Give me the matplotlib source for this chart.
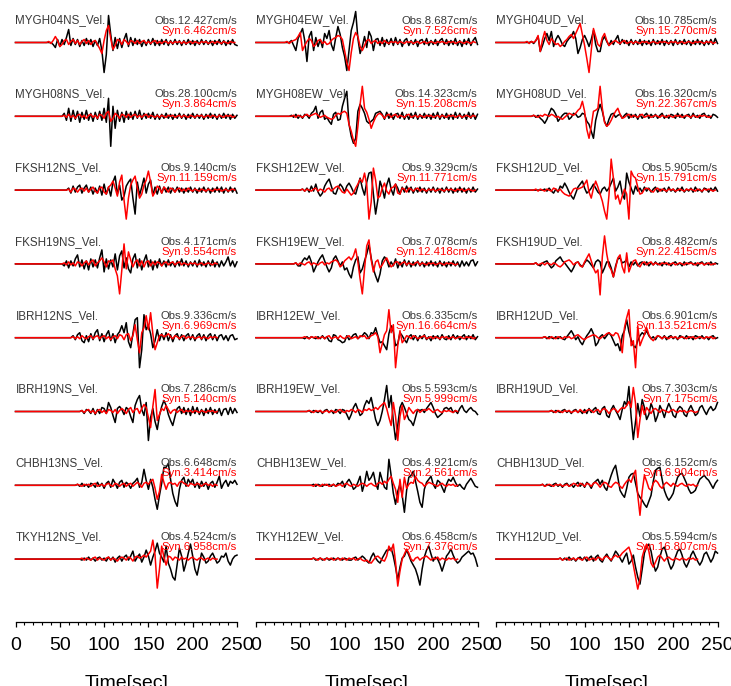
import numpy as np
import matplotlib.pyplot as plt
from matplotlib.ticker import MultipleLocator

plt.rcParams['font.family'] = ['Liberation Sans', 'DejaVu Sans']

# Stations (rows) and components (columns)
stations = ['MYGH04', 'MYGH08', 'FKSH12', 'FKSH19', 'IBRH12', 'IBRH19', 'CHBH13', 'TKYH12']
components = ['NS', 'EW', 'UD']

# Peak velocities printed on the panels (cm/s)
obs_NS = [12.427, 28.100, 9.140, 4.171, 9.336, 7.286, 6.648, 4.524]
syn_NS = [6.462, 3.864, 11.159, 9.554, 6.969, 5.140, 3.414, 6.958]
obs_EW = [8.687, 14.323, 9.329, 7.078, 6.335, 5.593, 4.921, 6.458]
syn_EW = [7.526, 15.208, 11.771, 12.418, 16.664, 5.999, 2.561, 7.376]
obs_UD = [10.785, 16.320, 5.905, 8.482, 6.901, 7.303, 6.152, 5.594]
syn_UD = [15.270, 22.367, 15.791, 22.415, 13.521, 7.175, 6.904, 16.807]

# Waveforms: normalised amplitude sampled every 2.5 s, starting at the onset time
dt = 2.5

onset_obs_NS = [40, 52.5, 57.5, 52.5, 62.5, 72.5, 67.5, 72.5]
onset_syn_NS = [35, 52.5, 57.5, 52.5, 62.5, 72.5, 67.5, 72.5]
onset_obs_EW = [37.5, 37.5, 50, 42.5, 52.5, 57.5, 62.5, 62.5]
onset_syn_EW = [32.5, 37.5, 50, 42.5, 52.5, 57.5, 62.5, 62.5]
onset_obs_UD = [37.5, 40, 52.5, 42.5, 52.5, 60, 50, 70]
onset_syn_UD = [32.5, 40, 42.5, 42.5, 52.5, 60, 50, 70]

MYGH04NS_obs = [0, -2, -5, 3, -4, 3, -2, 5, 13, -3, 4, -2, 3, -4, 2, -3, 4, -2, 3, -4,
                2, -3, 4, -8, -30, -12, 27, 8, -8, 5, -6, 4, -5, 3, 9, -4, 5, -3, 4, -2,
                3, -4, 2, -3, 3, -2, 4, -3, 2, -3, 3, -2, 3, -3, 2, -2, 3, -2, 2, -3,
                2, -2, 3, -2, 2, -3, 2, -2, 3, -2, 2, -2, 2, -3, 2, -2, 3, -2, 2, -3,
                2, -2, 3, -2, -3]
MYGH04NS_syn = [0, 1, -1, 2, 6, 2, -4, -2, 2, 3, -2, 1, 3, -1, 2, -2, 1, 3, -1, 2,
                -2, 1, 2, -2, -6, -11, 2, 12, 17, 4, -7, -3, 3, 2, -2, 3, 1, -2, 2, 1,
                -1, 2, -1, 1, 2, -1, 1, -1, 1, 2, -1, 1, -1, 1, 1, -1, 1, -1, 1, 0,
                1, -1, 1, -1, 0, 1, -1, 1, 0, -1, 1, 0, 1, -1, 0, 1, -1, 1, 0, -1,
                1, 0, -1, 1, 0, 0]
MYGH08NS_obs = [0, 3, -4, 8, -5, 6, -3, 5, -6, 4, -3, 6, -4, 3, -5, 4, -3, 5, -4,
                8, -6, 18, -30, 10, -12, 6, -5, 4, -6, 5, -3, 4, -3, 5, -2, 6, -3, 3, -2,
                3, -2, 4, -3, 2, -3, 2, -2, 3, -2, 2, -3, 2, -2, 3, -2, 2, -3, 2, -2,
                3, -2, 2, -2, 2, -3, 2, -2, 3, -2, 2, -3, 2, -2, 3, -2, 2, -3, 2, -2, 1]
MYGH08NS_syn = [0, 1, -1, 2, -1, 1, -2, 1, 2, -1, 1, -2, 1, 2, -1, 1, -2, 2, 1,
                -2, 3, 5, -5, -2, 3, 1, -2, 2, 1, -1, 2, -1, 1, 2, -1, 1, -1, 1, 2,
                -1, 1, 0, -1, 1, -1, 1, 0, -1, 1, 0, 1, -1, 0, 1, -1, 1, 0, -1, 1,
                0, -1, 1, 0, 1, -1, 0, 1, -1, 1, 0, -1, 1, 0, -1, 1, 0, 1, -1, 0]
FKSH12NS_obs = [0, 2, -3, 4, -2, 3, 5, -3, 2, 5, -2, 3, -4, 2, -3, 4, -5, 6, -4, 3, -6,
                8, 14, -4, 5, -10, -6, 4, 8, 11, -8, -24, 8, -5, 3, 12, -3, 6, 10, -5, 3,
                -4, 4, -3, 3, -2, 3, -3, 2, -2, 3, -2, 2, -3, 2, -2, 3, -2, 2, -3, 2,
                -2, 3, -2, 2, -3, 2, -2, 3, -2, 3, -3, 2, -2, 3, -2, 2, -3]
FKSH12NS_syn = [0, 1, -2, 2, 1, -2, 1, 2, -1, 2, -2, 1, 3, -1, -3, 2, 3, -2, -4, 3, 5,
                9, 2, -6, 8, 15, -10, -29, -8, 5, 10, 14, 2, -8, -4, 5, 10, 19, 8, -6, -2,
                4, 2, -3, 3, 1, -2, 2, 1, -2, 1, 2, -1, 1, -1, 2, 0, -1, 1, 0, -1,
                1, 0, -1, 1, 0, -1, 1, 0, 1, -1, 0, 1, -1, 0, 1, 0]
FKSH19NS_obs = [0, -2, 3, -4, 3, -2, 5, 9, -3, 4, -5, 3, -6, 5, -3, 4, -4, 6, 14,
                -8, 5, -5, 4, -3, 10, -6, 8, 13, -4, 6, -5, -9, 5, 10, -4, 5, -6, 3, 9,
                -3, 4, -6, 3, -4, 5, -2, 3, -3, 4, -2, 2, -3, 3, -2, 5, -2, 3, -3, 2,
                -2, 3, -3, 4, -2, 2, -3, 3, -2, 4, -3, 2, -3, 3, -2, 2, 7, -2, 3, -3, 2]
FKSH19NS_syn = [0, 1, -1, 2, -1, 1, -2, 2, 1, -2, 1, 3, -1, 2, 4, -2, 1, 3, 6,
                2, -3, 3, 2, 4, -5, -12, -30, -6, 20, -5, 12, 4, -3, 2, 4, -2, 3, -3, 2,
                3, -2, 2, -1, 2, 1, -2, 1, 2, -1, 1, 2, -1, 1, 2, -1, 1, 0, -1, 1,
                0, 1, -1, 0, 1, -1, 0, 1, 0, -1, 1, 0]
IBRH12NS_obs = [0, 2, -2, 3, 5, -3, -5, 2, -4, 4, -2, 5, 8, -3, 4, -4, 3, 7, -3,
                4, -5, 3, 6, 12, 5, 15, -4, -10, 4, 18, 20, -30, -12, 23, 8, 12, 4, -10, -3,
                8, -3, 4, -2, 5, -3, 3, -4, 2, 4, -2, 3, -3, 2, 4, -2, 3, -3, 2, 4,
                -2, 3, -3, 2, 4, -2, 3, -3, 2, 3, -2, 2, -3, 2, 3, -2, -1]
IBRH12NS_syn = [0, 1, -1, 1, -1, 2, 0, -1, 1, 2, -1, 1, 2, -1, 1, 2, -1, 1, -2,
                1, 2, -1, 3, 2, -2, 3, 4, -3, 2, 13, -2, -15, 5, 10, 22, 8, 25, 4, -12,
                -5, 2, 3, 1, 2, 4, 1, -1, 2, 1, -1, 1, 2, -1, 1, 0, 1, -1, 0, 1,
                -1, 1, 0, -1, 1, 0, 1, 0]
IBRH19NS_obs = [0, 1, -2, 2, 1, -2, 3, -3, 2, -2, 4, 3, -2, 9, 4, -4, -11, 3, 5,
                2, -3, 4, 2, -5, -11, 6, 12, 16, 2, -4, 9, -29, -6, 3, -10, -18, -4, 5, 11,
                6, -3, -9, -14, -5, 3, 5, -2, 4, -3, 3, -4, 5, -2, 4, -3, 2, -4, 3, -2,
                4, -3, 2, -2, 3, -4, 2, 3, -3, 4, -2, 3, -1]
IBRH19NS_syn = [0, 1, -1, 1, 2, -1, 1, -2, 1, 2, -1, 1, -2, 2, 1, -1, 2, -2, 1,
                3, 1, -2, 2, 4, -1, 2, 3, -2, 3, 7, 4, -6, -16, 5, 22, -9, -3, 3, 1,
                6, 2, -2, 1, 2, -1, 1, 2, -1, 1, 0, 1, -1, 1, 0, -1, 1, 0, -1, 1,
                0, 1, -1, 0]
CHBH13NS_obs = [0, 1, -1, 2, -1, 1, -2, 2, 1, -2, 3, -1, 2, -3, 2, 4, -2, 6, 2, -3, 3,
                5, -2, 3, 1, -3, 2, 4, 7, -2, 3, 16, 5, -4, 6, -2, -14, -24, -10, 2, 18,
                18, 22, 6, -8, -16, -21, -4, 5, 8, -1, 6, 2, 6, -2, 3, -3, 4, -1, 3, -4,
                2, 4, -2, 3, 9, -3, 2, 5, -1, 4, 2, 5, 1]
CHBH13NS_syn = [0, 1, 0, -1, 1, 0, 1, -1, 1, 2, -1, 0, 1, -1, 1, 2, 0, -1, 2, 1, -1,
                1, 2, -1, 1, 2, -1, 1, 3, 1, -2, 2, 3, 1, 4, 6, -3, -14, -6, 11, 3,
                -4, 2, 3, 1, 2, -1, 3, 4, 2, 1, -1, 2, 1, 0, 2, 1, -1, 1, 2, 0,
                1, -1, 1, 0]
TKYH12NS_obs = [0, -1, 1, -1, 2, -1, 1, -2, 1, 2, -1, 1, -2, 2, -1, 2, -3, 1, 3,
                -2, 2, 4, -1, 3, 8, -2, 2, 5, -3, 2, 9, 3, -6, 2, 8, 16, 6, 2, -3,
                13, -4, -10, -18, -21, -5, 11, 3, -12, -4, 6, 15, 3, -10, -16, -5, 6, 2, -4, -2,
                3, 6, 1, -4, -2, 3, 2, 6, -2, -6, 0, 3, 4]
TKYH12NS_syn = [0, 1, -1, 1, 0, -1, 1, 2, -1, 1, 0, -1, 1, 2, -1, 1, 0, -2, 1,
                2, 1, -1, 2, 1, -2, 2, 3, 1, 2, 4, 2, 5, 8, 19, 4, -29, -10, 13, 2,
                -6, 3, 2, -1, 2, 1, -1, 2, 0, 1, -1, 1, 2, 0, -1, 1, 1, -1, 0, 1,
                -1, 1, 0, 0]

MYGH04EW_obs = [0, 2, -3, -8, 4, 9, 14, 2, -19, 6, 11, -8, 5, -4, 3, -5, 9, 4, 12, -2, -8,
                5, 16, 8, -5, -14, -28, -8, 12, 20, 31, 4, -11, -4, 6, -5, 11, 6, -8, 3, 4,
                -3, 5, -4, 3, -2, 4, -3, 5, -2, 3, -4, 2, 4, -3, 2, -2, 3, -4, 2, 3,
                -2, 4, -3, 2, -2, 3, -3, 2, 4, -2, 3, -3, 2, -2, 4, -3, 2, -4, 3, -2,
                4, -3, 2, 5, -2]
MYGH04EW_syn = [0, 1, -1, 1, 2, 3, 6, 10, -8, -3, 1, 4, 2, -4, -2, 2, 3, -1, 1,
                -2, -1, 2, 4, 5, 7, 6, 3, -8, -20, -28, -10, 4, 10, 6, -4, -8, -3, 2, 3,
                -1, 1, 2, -1, 1, -1, 2, 0, -1, 1, 0, 1, -1, 1, 0, -1, 1, 0, 1, -1,
                0, 1, -1, 0, 1, -1, 0, 1, 0, -1, 1, 0, 1, 0, -1, 1, 0, 1, -1, 0,
                1, 0, -1, 1, 0, -1, 1, 0]
MYGH08EW_obs = [0, 1, -1, 2, -2, 1, -2, 2, 1, -2, 3, 5, 10, -2, 4, 6, -3, -1, -5, -8, 2,
                4, -4, -3, 10, 18, 25, -8, -20, -27, -22, 5, 12, 8, 3, -5, -7, -5, -3, 3, 4,
                5, 2, -3, 4, -2, 3, -3, 2, 3, -2, 4, -3, 2, -3, 3, -2, 4, -3, 2, -2,
                3, -2, 2, -3, 3, -2, 4, -3, 2, -2, 3, -3, 2, -3, 4, -2, 3, -2, 2, -3,
                4, -2, 3, -3, 2]
MYGH08EW_syn = [0, 0, 1, -1, 1, 0, -1, 1, 2, 0, 1, 2, 3, 1, -1, 0, 1, -1, -2, -3, -2,
                1, 3, 2, 4, 5, 3, -8, -15, -24, -30, -10, 12, 30, 8, 4, -3, -12, -6, -1, 2,
                3, 1, -2, 1, 2, -1, 1, 2, -1, 1, 0, -1, 1, 2, -1, 0, 1, -1, 1, 0,
                -1, 1, 0, 1, -1, 0, 1, -1, 1, 0, -1, 1, 0, 1, -1, 0, 1, -1, 0, 1,
                0, -1, 1, 0]
FKSH12EW_obs = [0, 1, -1, 2, -2, 4, -1, 6, -2, -6, -3, 4, 8, 11, 4, -3, -4, 2, 6, 3,
                -2, 4, 7, 3, -2, -4, 4, 12, 2, -5, 8, 17, 18, -4, -24, -10, 9, 2, -8, 5,
                12, 1, -5, 6, 2, -4, 3, -2, 4, -2, 3, -3, 2, -2, 3, -2, 2, -3, 2, -2,
                3, -2, 2, -3, 2, -2, 3, -2, 2, -3, 2, -2, 3, -2, 2, -3, 2, -2, 3, -2, 1]
FKSH12EW_syn = [0, 1, -1, 1, 0, -1, 1, 2, -1, 1, 0, -2, 1, 2, -1, 1, 3, 4, 1, -2,
                -3, 1, -2, -5, -3, 2, 6, 11, 8, 17, 5, -29, -12, 22, 10, -8, -6, 2, 7, -1,
                -4, 2, 3, 6, -3, -4, 2, 1, -2, 2, 1, -1, 1, 2, -1, 1, 0, -1, 1, 0,
                1, -1, 0, 1, 0, -1, 1, 0, 1, 0, -1, 1, 0, 1, -1, 0, 1, 0, -1, 0]
FKSH19EW_obs = [0, 1, -2, -2, 3, 6, 4, 8, 2, -8, -3, 2, 6, 9, 3, -3, -8, -4, 5,
                8, 3, -2, 2, -6, -4, -10, -14, -3, 4, 7, -9, -5, 3, 10, 19, 6, -5, -12, -18,
                -10, 3, 7, 4, -3, 2, -2, 5, -4, 2, -3, 4, -2, 3, -3, 2, -2, 3, -2, 2,
                -3, 2, -2, 3, -2, 2, -3, 3, -2, 2, -3, 2, -2, 3, -2, 2, -3, 3, -2, 2,
                -2, 3, 4, -2, 2]
FKSH19EW_syn = [0, 1, -1, 1, 0, -1, 1, 2, -1, 1, 0, -1, 1, 2, -1, 1, 0, 2, 3,
                4, 2, -3, -1, 3, 5, 7, 4, 8, 15, 2, -15, -30, -5, 18, 24, 4, -8, 2, 4,
                -4, -1, 3, 6, 1, -3, -1, 2, 2, -1, 1, 2, -1, 1, 0, -1, 1, 2, -1, 1,
                0, -1, 1, 0, 1, -1, 0, 1, 0, -1, 1, 0, 1, 0, -1, 0]
IBRH12EW_obs = [0, -1, 1, -1, 1, 0, -1, 1, -1, 2, -1, 1, -3, -4, 3, 2, -2, -3, -5,
                -4, 2, -2, 0, 3, 4, -1, 1, 2, 5, 3, -1, 5, 4, 10, 2, -5, -4, -8, -12,
                4, 12, 6, -8, -6, 5, 2, -2, -5, 1, 3, -2, 2, -3, 2, -1, 3, -2, 1, -3,
                2, -1, 2, -2, 3, -1, -2, 2, -2, 3, -1, 2, -2, 1, 3, -2, 2, -1, 3, -2, 1]
IBRH12EW_syn = [0, 1, 0, -1, 1, 0, 1, -1, 0, 1, -1, 1, 2, -1, 0, 1, -1, 2, 0,
                -1, 1, 2, -1, 0, 1, -1, 2, 1, 2, -1, 0, 2, 3, 5, 1, -15, -6, 3, 7,
                28, 5, 13, -30, -8, 7, -5, -2, 2, 1, -1, 2, 1, -1, 0, 1, 2, -1, 0, 1,
                -1, 1, 0, -1, 1, 0, 1, -1, 0, 1, -1, 0, 1, 0, -1, 1, 0, 1, -1, 0]
IBRH19EW_obs = [0, 1, -1, 1, 0, -1, 1, -2, 1, 2, -1, 1, -2, 2, 1, -2, 2, 1, -3, -8, -3,
                4, 8, 2, -4, -2, 6, 11, 8, 14, 3, -8, -14, -9, 0, 12, 26, 4, 16, -10, -28,
                -14, 4, 9, 4, -2, -8, -10, -14, -6, 2, 1, 2, -1, 3, 6, 9, 4, -2, -6, -4,
                -2, 3, 4, 2, 4, -1, 1, -2, 3, 6, 1, -1, 2, 4, 1, 0, -3]
IBRH19EW_syn = [0, 1, 0, -1, 1, 0, 1, -1, 0, 1, -1, 1, 0, -1, 1, 2, 0, -1, 1, 0, 2,
                1, -1, 2, 1, -1, 2, 1, 3, 1, 2, 4, 2, 5, 7, 9, 3, -6, -14, 9, -5,
                -29, -5, 6, -8, -3, 4, 1, -2, 1, 2, -1, 1, 2, 1, 3, 1, -1, 1, 2, 0,
                -1, 1, 0, 1, 0, -1, 1, 0]
CHBH13EW_obs = [0, 1, -1, 1, 0, -1, 1, 0, 1, -1, 1, -1, 2, 1, 4, -2, 3, 6, 2,
                -4, -2, 3, 9, -6, 2, 14, 5, 8, 13, 2, -4, 13, 5, -2, -4, 26, 10, -8, -19,
                -6, 1, -10, -27, -5, 8, 10, 14, 4, -6, -17, -22, -4, 3, 6, 9, 1, -3, 5, 3,
                -2, -7, 1, 6, 4, 8, 3, -1, 1, -2, -4, 1, 4, 7, 3, -1, -2]
CHBH13EW_syn = [0, -1, 1, 0, -1, 1, 0, 1, -1, 0, 1, -1, 0, 1, -1, 1, 2, 0, -1,
                1, 0, -1, 1, 2, 1, -1, 1, 2, 0, -1, 2, 3, 1, 4, 2, 6, 9, 2, -4,
                -17, 6, -12, 8, -3, 1, 3, 2, 9, 5, 3, 2, -1, 1, 3, 2, 1, 0, -1, 1,
                2, 0, -1, 1, 0, 1, -1, 0]
TKYH12EW_obs = [0, 1, -1, 0, 1, -1, 0, 1, -1, 0, 1, -1, 1, 0, -1, 1, 0, -1, -1,
                1, 2, -1, 1, 3, 1, -2, -4, 2, 6, 1, -2, -4, 1, 5, 9, 9, 11, 3, -8,
                -21, -8, 1, 3, 9, 4, -2, -6, -10, -17, -26, -10, 2, 9, 13, 5, -2, 2, 0, -5,
                -12, -5, 3, 6, 10, 4, -1, -4, -2, 2, 4, 6, 8, 5, 6, 1, -7]
TKYH12EW_syn = [0, 1, 0, -1, 1, 0, -1, 1, 0, 1, -1, 0, 1, -1, 1, 0, -1, 1, 0,
                1, -1, 0, 1, -1, -2, -1, -3, -4, -1, 2, 3, 1, -1, -2, 3, 13, 8, 15, -3,
                -27, -12, 0, 5, 10, 6, 0, -2, 1, 2, -1, 1, 2, 3, 1, -1, 1, 0, 2, -1,
                1, 0, -1, 1, 0, 1, -1, 0]

MYGH04UD_obs = [0, 1, -1, 2, 6, -9, -3, 4, 9, 2, 11, -4, 3, 7, 3, -2, -4, 1, 4, 6, 11,
                4, -11, -5, 3, 7, 2, -4, 3, 12, -2, -9, -9, 2, 6, 1, -3, 2, -2, 3, 7,
                -2, 3, -1, 2, -3, 3, -2, 2, -2, 3, -3, 2, -2, 2, -3, 3, -2, 2, -2, 3,
                -3, 2, -2, 2, -3, 3, -2, 2, -2, 3, -2, 2, -3, 2, -2, 3, -2, 2, -3, 2,
                -2, 3, -2, 4, -1]
MYGH04UD_syn = [0, 1, -1, 1, 0, 2, 7, -9, 3, 11, 2, -2, 4, 1, -2, -1, -4, -2, 1,
                3, 6, 8, 4, 9, 14, 19, 8, -3, -16, -30, -8, 14, 6, -2, -4, 5, 9, 2, -3,
                -1, 1, 2, 0, -1, 1, 2, -1, 0, 1, -1, 1, 0, -1, 1, 0, 1, -1, 0, 1,
                0, -1, 1, 0, 1, 0, -1, 1, 0, 1, -1, 0, 1, -1, 0, 1, 0, -1, 1, 0,
                1, 0, -1, 1, 0, 1, -1, 0]
MYGH08UD_obs = [0, 1, -1, 1, -2, -4, -7, -3, 3, 8, 6, 2, -5, -2, 1, 3, 3, -3, -1, 3,
                2, -1, 0, 3, 2, -5, -8, -15, -22, -4, 5, 12, 5, -5, -10, -3, 2, 3, -1, 1,
                2, -2, 1, 3, -2, 2, -1, 2, -3, 2, -2, 1, 3, -2, 2, -1, 2, -2, 1, 3,
                -2, 1, -2, 2, 1, -2, 3, -1, 2, -2, 1, 2, -2, 3, -1, 1, -2, 2, 3, -1,
                1, -2, 2, 1, -1]
MYGH08UD_syn = [0, 1, 0, -1, 1, 0, 2, 1, 0, 2, 1, -1, 0, -2, -3, -1, 1, 3, 2, 1,
                3, 6, 8, 15, 5, -13, -22, -10, 5, 6, 8, 30, 8, -6, -10, -8, -4, 1, 5, 8,
                2, -2, -1, 1, 2, -1, 1, 0, -1, 1, 2, -1, 0, 1, -1, 0, 1, 0, -1, 1,
                0, -1, 1, 0, -1, 1, 0, 1, -1, 0, 1, 0, -1, 1, 0, -1, 1, 0, 1, 0,
                -1, 0]
FKSH12UD_obs = [0, 1, -1, 2, -1, -3, 1, -2, 4, 2, 7, 3, -2, -6, -9, -3, 3, 6, 9,
                2, -3, -1, 2, 6, 2, -2, -4, 1, 3, -1, 2, 7, 12, -1, 3, 9, -4, -9, 17,
                8, 2, -4, 4, -1, 2, -2, 3, -1, 2, -2, 1, 3, -2, 1, -1, 2, -2, 3, -1,
                1, -2, 2, -1, 3, -2, 1, -1, 2, -2, 3, -1, 1, -2, 2, 1, -2, 2, -1, 3, -1]
FKSH12UD_syn = [0, 1, -1, 1, 0, -1, 1, 0, -1, 2, 1, -1, 1, -2, -4, -5, -6, -3, 1,
                2, 1, 2, 3, 6, 10, -2, -8, 2, 9, 3, -4, -11, -21, -29, -5, 31, 12, -9, -5,
                -14, -6, 1, -4, -29, 19, 14, 12, 3, -4, -3, 1, 2, 1, -1, -2, 1, 2, -1, 1,
                0, -1, 1, 0, 1, -1, 0, 1, 0, -1, 1, 0, 1, 0, -1, 1, 0, -1, 1, 0,
                1, 0, -1, 0]
FKSH19UD_obs = [0, 1, -1, -2, 1, 2, 3, -1, -4, -2, 3, 5, 7, 3, 1, -2, -5, -8, -4,
                1, 2, -1, -3, 1, 4, 2, -1, -4, 2, 4, 2, -9, -4, 2, 2, -4, -13, -2, 5,
                6, 1, 2, 4, -3, 2, -1, 2, -2, 1, 2, -1, 2, -2, 1, -1, 2, -1, 1, -2,
                2, -1, 1, -2, 1, 2, -1, 1, -2, 2, -1, 1, 2, -1, 1, -2, 1, 2, -1, 1,
                -1, 2, -1, 1, 0]
FKSH19UD_syn = [0, 1, -1, 0, 1, -1, 1, 0, -1, 1, 0, -2, -3, -1, 2, 3, 4, 2, -1,
                1, 2, -2, -3, 2, 6, 10, 3, -4, -9, -6, -31, 7, 28, 10, -2, -6, -13, -4, 6,
                9, -3, -9, 11, -8, -2, 3, 4, -1, -3, 1, 2, -1, 1, 2, -1, 1, 0, -1, 1,
                0, 1, -1, 0, 1, -1, 0, 1, 0, -1, 1, 0, 1, 0, -1, 1, 0, 1, -1, 0,
                1, -1, 0, 0]
IBRH12UD_obs = [0, 1, -1, 1, 0, -1, 1, -1, 1, -1, -2, 1, 4, 7, 3, -2, 1, -4, -7,
                -2, 2, 5, 9, 4, -8, -5, 1, 3, -1, 2, 5, 2, -3, -8, -6, -13, 2, 7, 18,
                6, -2, -8, -10, -3, 2, 5, 3, 7, 2, -1, 1, -2, 2, 1, -1, 2, -2, 1, 2,
                -1, 1, -2, 2, 1, -1, 2, -1, 1, -2, 2, 1, -1, 2, -1, 1, -2, 1, 2, -1, 0]
IBRH12UD_syn = [0, 1, 0, -1, 1, 0, -1, 1, 0, -1, 1, 0, 1, -1, 0, 2, 3, 1, -1,
                -2, 0, 1, 2, 3, 2, 0, -1, 1, 2, 4, 5, 3, 2, 5, 4, -2, -15, 10, 20,
                28, -8, -3, -30, 12, -8, -2, 3, 10, 3, -1, -3, 0, 2, 1, -1, 1, 0, -1, 1,
                0, 1, -1, 0, 1, 0, -1, 1, 0, 1, -1, 0, 1, 0, -1, 1, 0, 1, -1, 0]
IBRH19UD_obs = [0, 1, -1, 1, 0, -1, 1, 2, -1, 1, -2, 1, 2, -1, 1, -2, 2, -2, 3, -1,
                2, 4, -2, -3, 3, 5, -4, -6, 2, 6, 1, -3, -8, 2, 10, 6, 25, -5, -28, -10,
                8, -5, 12, 4, -8, -3, 8, 2, -10, -4, 6, 1, -6, 2, 8, 3, -4, -6, 2, 5,
                3, -3, -5, 2, 6, 1, -4, -2, 4, 6, 1, -3, 2, 5, 1, 3, 9]
IBRH19UD_syn = [0, 1, 0, -1, 1, 0, -1, 1, 0, 1, -1, 0, 1, -1, 2, 0, -1, 1, 2, 1,
                -1, 1, 2, -1, 2, 3, 1, -2, 1, 3, 2, -1, 2, 4, 3, 6, 10, 4, 24, 8,
                -26, -8, 6, -3, 4, 1, -2, 2, 3, 1, -1, 2, 1, 0, -1, 1, 2, 0, -1, 1,
                0, 1, -1, 0, 1, 0, -1, 0]
CHBH13UD_obs = [0, 1, -1, 1, 0, -1, 1, 2, -1, 1, -2, 1, 2, -1, 1, -2, 1, 3, -1, 2,
                -2, 3, 1, -3, 2, 4, 6, 1, 5, -2, -5, 3, 10, 16, 20, 8, -5, -9, -12, -3,
                8, 11, 12, 2, -8, -12, -15, -19, -22, -16, -10, 4, 15, 17, 18, 6, -5, -11, -15, -12,
                -8, 1, 8, 11, 12, 7, 2, -4, -8, -7, -5, 1, 6, 8, 10, 7, 5, 1, -3, 2, 5]
CHBH13UD_syn = [0, 1, -1, 0, 1, 0, -1, 1, 0, 1, -1, 0, 1, -1, 0, 2, 1, -1, 2, 1,
                -1, 2, 1, -1, 2, 3, 1, -2, 1, 3, 2, -1, -2, 1, 3, 2, -1, -3, 1, 4,
                6, 3, 10, 15, -10, -30, -6, 10, 4, -3, -5, 2, 5, 3, -1, -3, 1, 3, 1, -1,
                2, 0, -1, 1, 2, 0, -1, 1, 0, 1, -1, 0]
TKYH12UD_obs = [0, 1, -1, 1, -1, 2, -1, 1, -2, 1, 2, -1, 2, -2, 1, 3, -2, 2, 4, -1,
                -3, 2, 5, 1, -2, 3, 8, 5, 1, -3, 2, 6, -5, -2, 4, -8, -18, -25, -10, 6,
                12, 15, 8, -4, -12, -8, 2, 10, 12, 5, -4, -10, -6, 2, 8, 10, 4, -4, -8, -3,
                4, 8, 3, -2, -6, -2, 5, 7, 2, -3, 1, 8, 6]
TKYH12UD_syn = [0, 1, -1, 0, 1, -1, 0, 1, -1, 1, 0, -1, 1, 2, -1, 0, 1, -1, 2, 1,
                -1, 2, 3, 1, -1, 2, 4, 2, 3, 6, 8, 10, 12, 5, -6, -18, -30, -20, 2, 10,
                15, 8, -4, -8, -3, 2, 4, 1, -2, 1, 2, 0, -1, 1, 0, -1, 1, 0, -1, 1,
                0, 1, -1, 0]

obs_traces = {
    'NS': [MYGH04NS_obs, MYGH08NS_obs, FKSH12NS_obs, FKSH19NS_obs,
           IBRH12NS_obs, IBRH19NS_obs, CHBH13NS_obs, TKYH12NS_obs],
    'EW': [MYGH04EW_obs, MYGH08EW_obs, FKSH12EW_obs, FKSH19EW_obs,
           IBRH12EW_obs, IBRH19EW_obs, CHBH13EW_obs, TKYH12EW_obs],
    'UD': [MYGH04UD_obs, MYGH08UD_obs, FKSH12UD_obs, FKSH19UD_obs,
           IBRH12UD_obs, IBRH19UD_obs, CHBH13UD_obs, TKYH12UD_obs],
}
syn_traces = {
    'NS': [MYGH04NS_syn, MYGH08NS_syn, FKSH12NS_syn, FKSH19NS_syn,
           IBRH12NS_syn, IBRH19NS_syn, CHBH13NS_syn, TKYH12NS_syn],
    'EW': [MYGH04EW_syn, MYGH08EW_syn, FKSH12EW_syn, FKSH19EW_syn,
           IBRH12EW_syn, IBRH19EW_syn, CHBH13EW_syn, TKYH12EW_syn],
    'UD': [MYGH04UD_syn, MYGH08UD_syn, FKSH12UD_syn, FKSH19UD_syn,
           IBRH12UD_syn, IBRH19UD_syn, CHBH13UD_syn, TKYH12UD_syn],
}
onsets = {'NS': (onset_obs_NS, onset_syn_NS), 'EW': (onset_obs_EW, onset_syn_EW),
          'UD': (onset_obs_UD, onset_syn_UD)}
peaks = {'NS': (obs_NS, syn_NS), 'EW': (obs_EW, syn_EW), 'UD': (obs_UD, syn_UD)}


def trace_xy(t0, vals):
    t = t0 + dt * np.arange(len(vals))
    return np.r_[0, t], np.r_[0, np.asarray(vals, dtype=float)]


W, H = 731, 686
fig = plt.figure(figsize=(W / 100, H / 100), dpi=100)

col_left = [15.5, 256, 496]      # pixel position of t = 0 in each column
col_width = 221.5
axis_y = 622                      # pixel row of the time axis
row0, row_step = 42.5, 73.8       # pixel row of the first trace and spacing

for c, comp in enumerate(components):
    ax = fig.add_axes([col_left[c] / W, (H - axis_y) / H, col_width / W, axis_y / H])
    ax.set_xlim(0, 250)
    ax.set_ylim(-axis_y, 0)
    ax.patch.set_alpha(0)
    for s in ['top', 'right', 'left']:
        ax.spines[s].set_visible(False)
    ax.spines['bottom'].set_linewidth(0.9)
    ax.set_yticks([])
    ax.xaxis.set_major_locator(MultipleLocator(50))
    ax.xaxis.set_minor_locator(MultipleLocator(10))
    ax.tick_params(axis='x', which='major', length=3.5, width=0.9, labelsize=14, pad=7.5)
    ax.tick_params(axis='x', which='minor', length=2, width=0.8)

    on_obs, on_syn = onsets[comp]
    pk_obs, pk_syn = peaks[comp]
    for i, st in enumerate(stations):
        base = -(row0 + row_step * i)
        x, y = trace_xy(on_obs[i], obs_traces[comp][i])
        ax.plot(x, base + y, color='black', lw=1.1, clip_on=False)
        x, y = trace_xy(on_syn[i], syn_traces[comp][i])
        ax.plot(x, base + y, color='red', lw=1.1, clip_on=False)

        ax.text(0, base + 19, f'{st}{comp}_Vel.', fontsize=8.4, color='#3a3a3a',
                ha='left', va='baseline')
        ax.text(250, base + 19, f'Obs.{pk_obs[i]:.3f}cm/s', fontsize=8.2, color='#3a3a3a',
                ha='right', va='baseline')
        ax.text(250, base + 9, f'Syn.{pk_syn[i]:.3f}cm/s', fontsize=8.2, color='red',
                ha='right', va='baseline')

    fig.text((col_left[c] + col_width / 2) / W, -2 / H, 'Time[sec]', fontsize=14,
             ha='center', va='baseline')

fig.savefig('out.png', dpi=100)
